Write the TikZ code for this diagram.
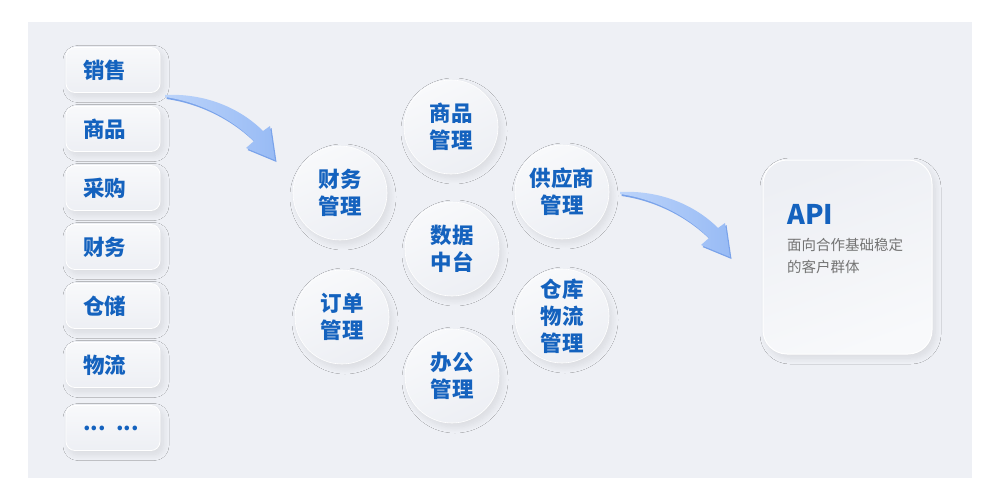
\documentclass[tikz,border=0pt]{standalone}
\usepackage{fontspec}
\setmainfont{Noto Sans CJK SC}
\usetikzlibrary{shadows.blur}
\definecolor{panel}{HTML}{EEF0F5}
\definecolor{txtblue}{HTML}{1462BE}
\definecolor{greytxt}{HTML}{737373}
\definecolor{arrowA}{HTML}{BCD4FA}
\definecolor{arrowB}{HTML}{98BBF5}
\definecolor{arrowD}{HTML}{7AA3EA}
\definecolor{boxA}{HTML}{F8F9FB}
\definecolor{boxB}{HTML}{EDEFF4}
\tikzset{
  softshadow/.style={blur shadow={shadow xshift=3pt, shadow yshift=-4pt, shadow blur radius=6pt, shadow blur steps=14, shadow opacity=9}},
  lbox/.style={softshadow, draw=white, line width=0.8pt, top color=boxA, bottom color=boxB, rounded corners=9pt,
    minimum height=45pt, text width=60pt, inner xsep=17pt, align=left,
    font=\bfseries\fontsize{21.5}{26}\selectfont, text=txtblue},
  circ/.style={softshadow, circle, draw=white, line width=0.6pt, minimum size=94pt, inner sep=0pt,
    top color=boxA, bottom color=boxB, shading angle=25, align=center,
    font=\bfseries\fontsize{21.5}{27}\selectfont, text=txtblue},
  card/.style={softshadow, draw=white, line width=1pt, rounded corners=24pt, minimum width=169pt, minimum height=194pt,
    top color=boxB, bottom color=boxA, shading angle=20},
  arrowbody/.style={left color=arrowA, right color=arrowB},
  arrowedge/.style={fill=arrowD}
}
\newcommand{\swoosh}{(165,95) .. controls (205,93) and (240,108) .. (263,131) -- (270,126) -- (275,160) -- (246,148) -- (254,141) .. controls (232,119) and (200,102) .. (165,97) -- cycle}
\begin{document}
\begin{tikzpicture}[x=1pt,y=-1pt]
\useasboundingbox (0,0) rectangle (1000,500);
\fill[white] (0,0) rectangle (1000,500);
\fill[panel] (28,22) rectangle (972,478);

% left list
\node[lbox] (l1) at (113,70) {销售};
\node[lbox] (l2) at (113,129) {商品};
\node[lbox] (l3) at (113,188) {采购};
\node[lbox] (l4) at (113,247) {财务};
\node[lbox] (l5) at (113,306) {仓储};
\node[lbox] (l6) at (113,365) {物流};
\node[lbox] (l7) at (113,428) {... ...};

% circles
\node[circ] (c1) at (451,127) {商品\\管理};
\node[circ] (c2) at (340,193) {财务\\管理};
\node[circ] (c3) at (562,192) {供应商\\管理};
\node[circ] (c4) at (452,249) {数据\\中台};
\node[circ] (c5) at (342,317) {订单\\管理};
\node[circ] (c6) at (562,316) {仓库\\物流\\管理};
\node[circ] (c7) at (452,376) {办公\\管理};

% API card
\node[card] (api) at (847.5,257) {};
\node[anchor=west, font=\bfseries\fontsize{27}{30}\selectfont, text=txtblue, inner sep=0pt] (apit) at (787,214) {API};
\node[anchor=north west, align=left, font=\fontsize{14.5}{22}\selectfont, text=greytxt, inner sep=0pt] (apis) at (787,238) {面向合作基础稳定\\的客户群体};

% arrows
\begin{scope}
  \fill[arrowedge] [shift={(1.5,2)}] \swoosh;
  \shade[arrowbody] \swoosh;
\end{scope}
\begin{scope}[shift={(455,97)}]
  \fill[arrowedge] [shift={(1.5,2)}] \swoosh;
  \shade[arrowbody] \swoosh;
\end{scope}
\end{tikzpicture}
\end{document}
